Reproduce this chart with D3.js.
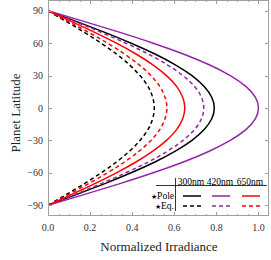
<!DOCTYPE html>
<html>
<head>
<meta charset="utf-8">
<script src="https://cdn.jsdelivr.net/npm/d3@7"></script>
<style>
  body { margin: 0; background: #fff; }
  svg { font-family: "Liberation Serif", "DejaVu Serif", serif; }
</style>
</head>
<body>
<div id="chart"></div>
<script>
// latitudes and irradiance
var latitudes = [-90, -80, -70, -60, -50, -40, -30, -20, -10, 0, 10, 20, 30, 40, 50, 60, 70, 80, 90];
var pole300 = [0, 0.137, 0.270, 0.395, 0.508, 0.605, 0.684, 0.742, 0.778, 0.790, 0.778, 0.742, 0.684, 0.605, 0.508, 0.395, 0.270, 0.137, 0];
var eq300   = [0, 0.088, 0.173, 0.253, 0.325, 0.387, 0.437, 0.475, 0.497, 0.505, 0.497, 0.475, 0.437, 0.387, 0.325, 0.253, 0.173, 0.088, 0];
var pole420 = [0, 0.174, 0.342, 0.500, 0.643, 0.766, 0.866, 0.940, 0.985, 1.000, 0.985, 0.940, 0.866, 0.766, 0.643, 0.500, 0.342, 0.174, 0];
var eq420   = [0, 0.129, 0.253, 0.370, 0.476, 0.567, 0.641, 0.696, 0.729, 0.740, 0.729, 0.696, 0.641, 0.567, 0.476, 0.370, 0.253, 0.129, 0];
var pole650 = [0, 0.113, 0.222, 0.325, 0.418, 0.498, 0.563, 0.611, 0.640, 0.650, 0.640, 0.611, 0.563, 0.498, 0.418, 0.325, 0.222, 0.113, 0];
var eq650   = [0, 0.098, 0.193, 0.283, 0.363, 0.433, 0.489, 0.531, 0.556, 0.565, 0.556, 0.531, 0.489, 0.433, 0.363, 0.283, 0.193, 0.098, 0];
var wavelengths = ["300nm", "420nm", "650nm"];
var rowNames = ["Pole", "Eq."];
var xTicks = [0, 0.2, 0.4, 0.6, 0.8, 1.0];
var yTicks = [-90, -60, -30, 0, 30, 60, 90];

var svgW = 271, svgH = 260;
var padL = 48, padR = 269, padT = 0, padB = 216;
var purple = "#9424a8", red = "#ff0000", black = "#000";

var series = [
  {vals: pole300, color: black, dash: null},
  {vals: eq300, color: black, dash: "4,3"},
  {vals: pole420, color: purple, dash: null},
  {vals: eq420, color: purple, dash: "4,3"},
  {vals: pole650, color: red, dash: null},
  {vals: eq650, color: red, dash: "4,3"}
];

var svg = d3.select("#chart").append("svg").attr("width", svgW).attr("height", svgH);

var x = d3.scaleLinear().domain([0, 1.05]).range([padL, padR]);
var y = d3.scaleLinear().domain([-100, 100]).range([padB, padT]);

svg.append("clipPath").attr("id", "clip").append("rect")
  .attr("x", padL).attr("y", padT).attr("width", padR - padL).attr("height", padB - padT);

var line = d3.line()
  .x(d => x(d[0]))
  .y(d => y(d[1]))
  .curve(d3.curveNatural);

svg.append("g").attr("clip-path", "url(#clip)")
  .selectAll("path")
  .data(series)
  .enter()
  .append("path")
  .attr("d", s => line(s.vals.map((v, i) => [v, latitudes[i]])))
  .attr("fill", "none")
  .attr("stroke", s => s.color)
  .attr("stroke-width", 1.5)
  .attr("stroke-dasharray", s => s.dash);

// frame with ticks on all sides
var frameColor = "#a0a0a0";
svg.append("rect")
  .attr("x", padL + 0.5).attr("y", padT + 0.5)
  .attr("width", padR - padL - 1).attr("height", padB - padT - 1)
  .attr("fill", "none").attr("stroke", frameColor).attr("stroke-width", 1);

var minorX = d3.range(0, 21).map(i => i * 0.05);
var tickG = svg.append("g").attr("stroke", frameColor).attr("stroke-width", 1);
minorX.forEach(function(t) {
  var major = xTicks.some(m => Math.abs(m - t) < 1e-6);
  var len = major ? 4 : 2;
  var px = Math.round(x(t)) + 0.5;
  tickG.append("line").attr("x1", px).attr("x2", px).attr("y1", padB).attr("y2", padB - len);
  tickG.append("line").attr("x1", px).attr("x2", px).attr("y1", padT).attr("y2", padT + len);
});
yTicks.forEach(function(t) {
  var py = Math.round(y(t)) + 0.5;
  tickG.append("line").attr("x1", padL).attr("x2", padL + 4).attr("y1", py).attr("y2", py);
  tickG.append("line").attr("x1", padR).attr("x2", padR - 4).attr("y1", py).attr("y2", py);
});

svg.append("g").selectAll("text")
  .data(xTicks)
  .enter()
  .append("text")
  .attr("x", d => x(d))
  .attr("y", 231)
  .attr("text-anchor", "middle")
  .attr("font-size", 10)
  .attr("fill", "#333")
  .text(d => d.toFixed(1));

svg.append("g").selectAll("text")
  .data(yTicks)
  .enter()
  .append("text")
  .attr("x", 43)
  .attr("y", d => y(d) + 3.5)
  .attr("text-anchor", "end")
  .attr("font-size", 10)
  .attr("fill", "#333")
  .text(d => d < 0 ? "\u2212" + Math.abs(d) : d);

svg.append("text")
  .attr("x", 159).attr("y", 251)
  .attr("text-anchor", "middle")
  .attr("font-size", 13)
  .attr("fill", "#222")
  .text("Normalized Irradiance");

svg.append("text")
  .attr("transform", "translate(20,113) rotate(-90)")
  .attr("text-anchor", "middle")
  .attr("font-size", 13)
  .attr("fill", "#222")
  .text("Planet Latitude");

// legend table
var lg = svg.append("g");
var colX = [183, 212, 242], sampleW = 18;
var rowY = [196, 206];
lg.append("line").attr("x1", 175.5).attr("x2", 175.5).attr("y1", 178).attr("y2", 211)
  .attr("stroke", "#000").attr("stroke-width", 0.8);
lg.append("line").attr("x1", 156).attr("x2", 267).attr("y1", 185.5).attr("y2", 185.5)
  .attr("stroke", "#000").attr("stroke-width", 0.8);
lg.selectAll(".hdr")
  .data(wavelengths)
  .enter()
  .append("text")
  .attr("x", (d, i) => colX[i] + sampleW / 2 - 1)
  .attr("y", 185)
  .attr("text-anchor", "middle")
  .attr("font-size", 9.5)
  .text(d => d);
var rows = lg.selectAll(".row")
  .data(rowNames)
  .enter()
  .append("text")
  .attr("x", 174)
  .attr("y", (d, i) => rowY[i] + 3)
  .attr("text-anchor", "end")
  .attr("font-size", 9.5);
rows.append("tspan").attr("font-size", 7).text("\u2605");
rows.append("tspan").text(d => d);
series.forEach(function(s, i) {
  var col = Math.floor(i / 2), row = i % 2;
  lg.append("line")
    .attr("x1", colX[col]).attr("x2", colX[col] + sampleW)
    .attr("y1", rowY[row]).attr("y2", rowY[row])
    .attr("stroke", s.color).attr("stroke-width", 1.5)
    .attr("stroke-dasharray", s.dash);
});
</script>
</body>
</html>
